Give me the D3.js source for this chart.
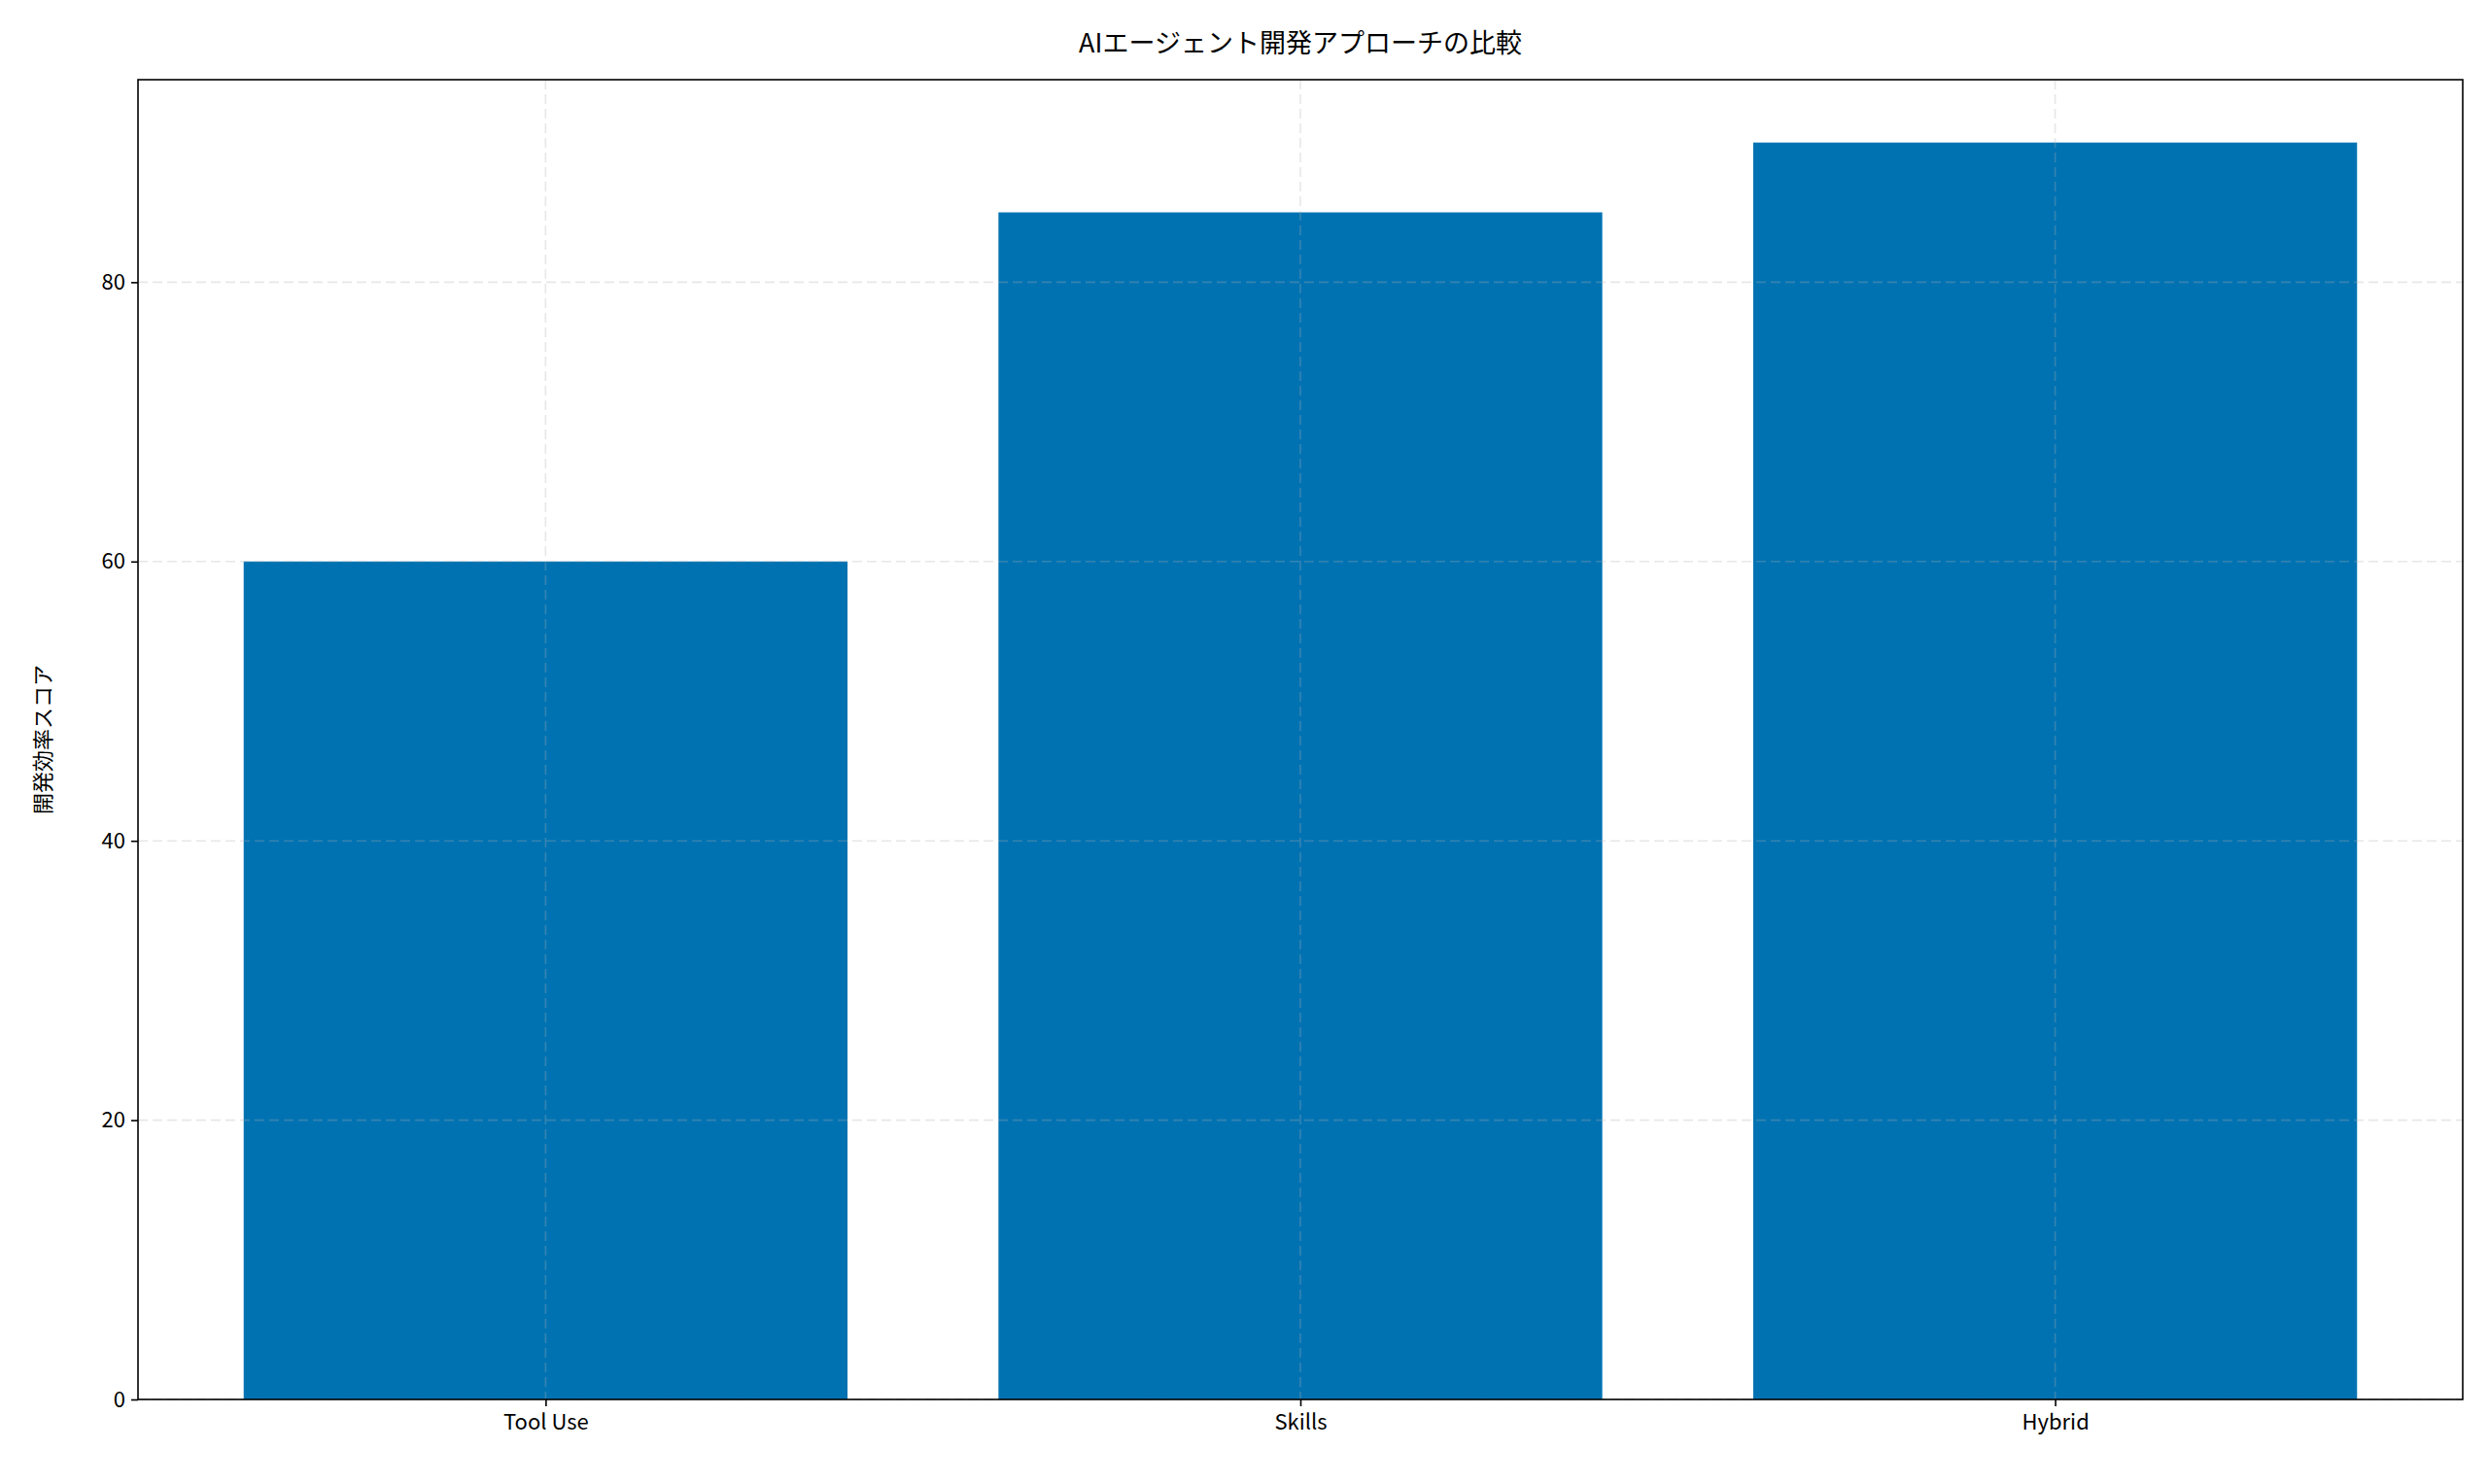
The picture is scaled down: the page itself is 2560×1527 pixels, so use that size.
<!DOCTYPE html>
<html><head><meta charset="utf-8">
<script src="https://cdn.jsdelivr.net/npm/d3@7"></script>
<style>body{margin:0;background:#fff}svg{font-family:"Noto Sans CJK JP","Noto Sans",sans-serif}</style>
</head><body><svg id="c" width="2560" height="1527"></svg>
<script>
const categories = ["Tool Use","Skills","Hybrid"];
const values = [60,85,90];
const yTicks = [0,20,40,60,80];
const title = "AIエージェント開発アプローチの比較";
const yLabel = "開発効率スコア";

const svg = d3.select("#c");
const L=142,R=2534,T=82,B=1440;
const x = d3.scaleLinear().domain([-0.54,2.54]).range([L,R]);
const y = d3.scaleLinear().domain([0,94.5]).range([B,T]);
const bw = x(0.4)-x(-0.4);

svg.append("g").selectAll("rect").data(values).join("rect")
  .attr("x",(d,i)=>x(i)-bw/2).attr("width",bw)
  .attr("y",d=>y(d)).attr("height",d=>B-y(d)).attr("fill","#0072B2");

const grid = svg.append("g").attr("stroke","#b0b0b0").attr("stroke-opacity",0.3).attr("stroke-width",1.6).attr("stroke-dasharray","10,5");
yTicks.forEach(t=>grid.append("line").attr("x1",L).attr("x2",R).attr("y1",y(t)).attr("y2",y(t)));
categories.forEach((c,i)=>grid.append("line").attr("x1",x(i)).attr("x2",x(i)).attr("y1",T).attr("y2",B));

const ya = svg.append("g").attr("transform",`translate(${L},0)`).call(d3.axisLeft(y).tickValues(yTicks).tickSize(7).tickPadding(6));
const xa = svg.append("g").attr("transform",`translate(0,${B})`).call(d3.axisBottom(x).tickValues([0,1,2]).tickFormat((d)=>categories[d]).tickSize(7).tickPadding(8));
[ya,xa].forEach(a=>{a.select(".domain").remove();a.selectAll("text").attr("font-size",22).attr("fill","#000").attr("font-family","'Noto Sans CJK JP'");a.selectAll("line").attr("stroke","#000").attr("stroke-width",1.6);});

svg.append("rect").attr("x",L).attr("y",T).attr("width",R-L).attr("height",B-T).attr("fill","none").attr("stroke","#000").attr("stroke-width",1.6);

svg.append("text").attr("x",(L+R)/2).attr("y",54).attr("text-anchor","middle").attr("font-size",27).text(title);
svg.append("text").attr("transform",`translate(52,${(T+B)/2}) rotate(-90)`).attr("text-anchor","middle").attr("font-size",22).text(yLabel);
</script></body></html>
